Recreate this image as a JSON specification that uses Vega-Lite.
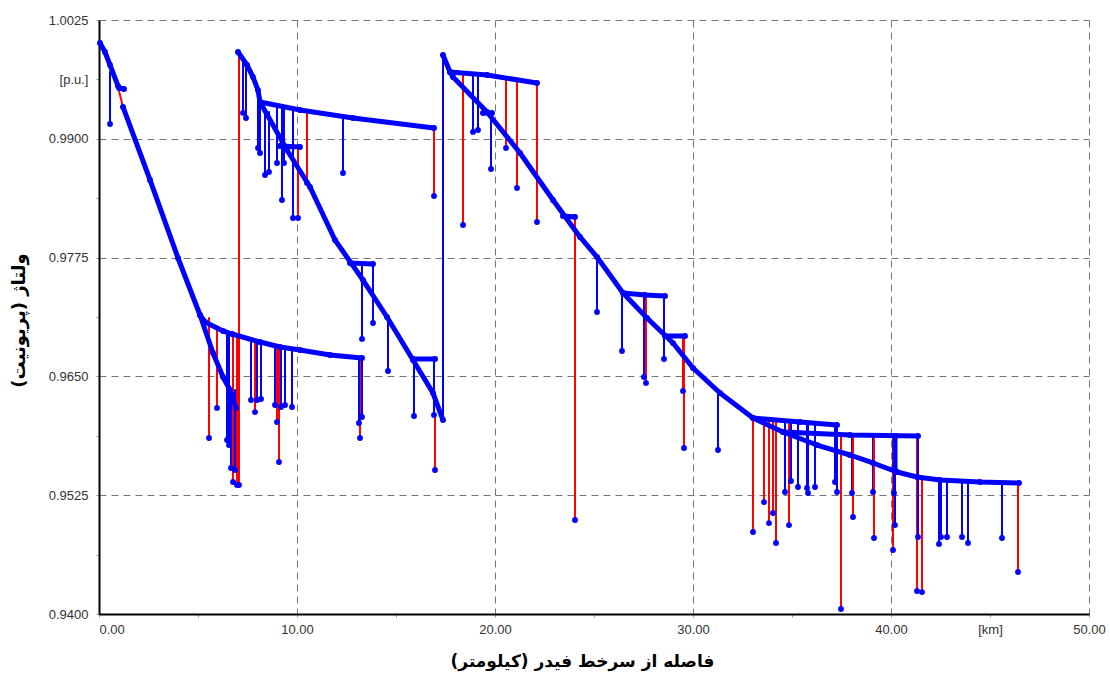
{
  "$schema": "https://vega.github.io/schema/vega-lite/v6.json",
  "autosize": {"type": "none"},
  "padding": {"left": 99, "top": 20, "right": 21, "bottom": 59},
  "width": 990,
  "height": 594,
  "background": "white",
  "config": {"view": {"stroke": null}},
  "datasets": {
    "feeders": [
      {"s":"m1a","c":"A","x":0.051,"y":1.00008},{"s":"m1a","c":"A","x":0.303,"y":0.99913},{"s":"m1a","c":"A","x":0.556,"y":0.99777},{"s":"m1a","c":"A","x":0.960,"y":0.99556},{"s":"m1a","c":"A","x":1.010,"y":0.99535},{"s":"m1a","c":"A","x":1.263,"y":0.99524},
      {"s":"m1b","c":"A","x":1.212,"y":0.99335},{"s":"m1b","c":"A","x":2.576,"y":0.98567},{"s":"m1b","c":"A","x":3.990,"y":0.97746},{"s":"m1b","c":"A","x":5.101,"y":0.97146},{"s":"m1b","c":"A","x":5.758,"y":0.96746},{"s":"m1b","c":"A","x":6.263,"y":0.96494},{"s":"m1b","c":"A","x":6.616,"y":0.96357},{"s":"m1b","c":"A","x":6.919,"y":0.96168},
      {"s":"h1","c":"A","x":5.101,"y":0.97146},{"s":"h1","c":"A","x":5.354,"y":0.97072},{"s":"h1","c":"A","x":6.263,"y":0.96978},{"s":"h1","c":"A","x":6.717,"y":0.96946},{"s":"h1","c":"A","x":8.131,"y":0.96862},{"s":"h1","c":"A","x":9.141,"y":0.96809},{"s":"h1","c":"A","x":10.152,"y":0.96778},{"s":"h1","c":"A","x":11.667,"y":0.96725},{"s":"h1","c":"A","x":13.283,"y":0.96694},
      {"s":"m2","c":"A","x":7.020,"y":0.99913},{"s":"m2","c":"A","x":7.475,"y":0.99777},{"s":"m2","c":"A","x":7.778,"y":0.99650},{"s":"m2","c":"A","x":8.030,"y":0.99513},{"s":"m2","c":"A","x":8.131,"y":0.99387},{"s":"m2","c":"A","x":9.495,"y":0.98882},{"s":"m2","c":"A","x":10.657,"y":0.98493},{"s":"m2","c":"A","x":11.919,"y":0.97935},{"s":"m2","c":"A","x":13.333,"y":0.97514},{"s":"m2","c":"A","x":14.545,"y":0.97125},{"s":"m2","c":"A","x":15.859,"y":0.96673},{"s":"m2","c":"A","x":16.869,"y":0.96325},{"s":"m2","c":"A","x":17.374,"y":0.96041},
      {"s":"h2","c":"A","x":8.131,"y":0.99387},{"s":"h2","c":"A","x":10.152,"y":0.99303},{"s":"h2","c":"A","x":12.828,"y":0.99219},{"s":"h2","c":"A","x":16.919,"y":0.99114},
      {"s":"h2b","c":"A","x":9.141,"y":0.98924},{"s":"h2b","c":"A","x":10.152,"y":0.98914},
      {"s":"h4","c":"A","x":12.677,"y":0.97693},{"s":"h4","c":"A","x":13.838,"y":0.97683},
      {"s":"h5","c":"A","x":15.859,"y":0.96683},{"s":"h5","c":"A","x":16.970,"y":0.96683},
      {"s":"m3","c":"A","x":17.374,"y":0.99882},{"s":"m3","c":"A","x":17.727,"y":0.99703},{"s":"m3","c":"A","x":17.879,"y":0.99650},{"s":"m3","c":"A","x":19.596,"y":0.99282},{"s":"m3","c":"A","x":21.263,"y":0.98851},{"s":"m3","c":"A","x":22.929,"y":0.98356},{"s":"m3","c":"A","x":24.293,"y":0.97967},{"s":"m3","c":"A","x":25.152,"y":0.97756},{"s":"m3","c":"A","x":26.465,"y":0.97378},{"s":"m3","c":"A","x":27.677,"y":0.97115},{"s":"m3","c":"A","x":28.990,"y":0.96851},{"s":"m3","c":"A","x":30.000,"y":0.96588},{"s":"m3","c":"A","x":31.364,"y":0.96325},{"s":"m3","c":"A","x":33.030,"y":0.96062},{"s":"m3","c":"A","x":34.545,"y":0.95915},{"s":"m3","c":"A","x":36.263,"y":0.95778},{"s":"m3","c":"A","x":37.929,"y":0.95673},{"s":"m3","c":"A","x":39.091,"y":0.95589},{"s":"m3","c":"A","x":40.303,"y":0.95494},{"s":"m3","c":"A","x":41.313,"y":0.95442},{"s":"m3","c":"A","x":42.475,"y":0.95410},{"s":"m3","c":"A","x":44.495,"y":0.95389},{"s":"m3","c":"A","x":46.465,"y":0.95378},
      {"s":"h3","c":"A","x":17.727,"y":0.99703},{"s":"h3","c":"A","x":19.596,"y":0.99671},{"s":"h3","c":"A","x":22.121,"y":0.99587},
      {"s":"h6","c":"A","x":19.394,"y":0.99272},{"s":"h6","c":"A","x":19.848,"y":0.99272},
      {"s":"h7","c":"A","x":23.434,"y":0.98188},{"s":"h7","c":"A","x":24.040,"y":0.98177},
      {"s":"h8","c":"A","x":26.465,"y":0.97378},{"s":"h8","c":"A","x":27.576,"y":0.97357},{"s":"h8","c":"A","x":28.586,"y":0.97346},
      {"s":"h9","c":"A","x":28.586,"y":0.96925},{"s":"h9","c":"A","x":29.596,"y":0.96925},
      {"s":"h10","c":"A","x":33.030,"y":0.96062},{"s":"h10","c":"A","x":35.404,"y":0.96020},{"s":"h10","c":"A","x":37.273,"y":0.95989},
      {"s":"h11","c":"A","x":34.545,"y":0.95915},{"s":"h11","c":"A","x":37.929,"y":0.95883},{"s":"h11","c":"A","x":41.364,"y":0.95873},
      {"s":"h11v","c":"A","x":40.202,"y":0.95873},{"s":"h11v","c":"A","x":40.202,"y":0.95515}
    ],
    "laterals": [
      {"s":"m1r","c":"B","x":1.010,"y":0.99503,"p":0},{"s":"m1r","c":"B","x":1.212,"y":0.99335,"p":0},
      {"s":"reg1","c":"B","x":7.071,"y":0.99913,"p":0},{"s":"reg1","c":"B","x":7.071,"y":0.95357,"p":1},
      {"s":"reg2","c":"A","x":17.374,"y":0.96041,"p":0},{"s":"reg2","c":"A","x":17.374,"y":0.99882,"p":0},
      {"s":"d1","c":"A","x":0.556,"y":0.99703,"p":0},{"s":"d1","c":"A","x":0.556,"y":0.99156,"p":1},
      {"s":"d2","c":"B","x":5.556,"y":0.97115,"p":0},{"s":"d2","c":"B","x":5.556,"y":0.95852,"p":1},
      {"s":"d3","c":"B","x":5.960,"y":0.97030,"p":0},{"s":"d3","c":"B","x":5.960,"y":0.96168,"p":1},
      {"s":"d4","c":"A","x":6.465,"y":0.96967,"p":0},{"s":"d4","c":"A","x":6.465,"y":0.95831,"p":1},
      {"s":"d5","c":"A","x":6.566,"y":0.96946,"p":0},{"s":"d5","c":"A","x":6.566,"y":0.95778,"p":1},
      {"s":"d6","c":"B","x":6.768,"y":0.96946,"p":0},{"s":"d6","c":"B","x":6.768,"y":0.95389,"p":1},
      {"s":"d7","c":"B","x":6.970,"y":0.96925,"p":0},{"s":"d7","c":"B","x":6.970,"y":0.95357,"p":1},
      {"s":"d8","c":"A","x":6.667,"y":0.96357,"p":0},{"s":"d8","c":"A","x":6.667,"y":0.95536,"p":1},
      {"s":"d9","c":"A","x":6.869,"y":0.96357,"p":0},{"s":"d9","c":"A","x":6.869,"y":0.95515,"p":1},
      {"s":"d10","c":"A","x":7.677,"y":0.96883,"p":0},{"s":"d10","c":"A","x":7.677,"y":0.96252,"p":1},
      {"s":"d11","c":"B","x":7.879,"y":0.96873,"p":0},{"s":"d11","c":"B","x":7.879,"y":0.96125,"p":1},
      {"s":"d12","c":"A","x":7.980,"y":0.96873,"p":0},{"s":"d12","c":"A","x":7.980,"y":0.96252,"p":1},
      {"s":"d13","c":"A","x":8.182,"y":0.96862,"p":0},{"s":"d13","c":"A","x":8.182,"y":0.96262,"p":1},
      {"s":"d14","c":"A","x":8.889,"y":0.96820,"p":0},{"s":"d14","c":"A","x":8.889,"y":0.96199,"p":1},
      {"s":"d15","c":"B","x":8.990,"y":0.96820,"p":0},{"s":"d15","c":"B","x":8.990,"y":0.96020,"p":1},
      {"s":"d16","c":"B","x":9.091,"y":0.96820,"p":0},{"s":"d16","c":"B","x":9.091,"y":0.95599,"p":1},
      {"s":"d17","c":"A","x":9.192,"y":0.96809,"p":0},{"s":"d17","c":"A","x":9.192,"y":0.96178,"p":1},
      {"s":"d18","c":"A","x":9.394,"y":0.96809,"p":0},{"s":"d18","c":"A","x":9.394,"y":0.96199,"p":1},
      {"s":"d19","c":"A","x":9.747,"y":0.96788,"p":0},{"s":"d19","c":"A","x":9.747,"y":0.96178,"p":1},
      {"s":"d20","c":"B","x":13.182,"y":0.96694,"p":0},{"s":"d20","c":"B","x":13.182,"y":0.95852,"p":1},
      {"s":"d21","c":"A","x":13.131,"y":0.96694,"p":0},{"s":"d21","c":"A","x":13.131,"y":0.96010,"p":1},
      {"s":"d22","c":"A","x":13.283,"y":0.96694,"p":0},{"s":"d22","c":"A","x":13.283,"y":0.96073,"p":1},
      {"s":"d23","c":"A","x":7.273,"y":0.99829,"p":0},{"s":"d23","c":"A","x":7.273,"y":0.99272,"p":1},
      {"s":"d24","c":"A","x":7.424,"y":0.99777,"p":0},{"s":"d24","c":"A","x":7.424,"y":0.99219,"p":1},
      {"s":"d25","c":"A","x":8.030,"y":0.99377,"p":0},{"s":"d25","c":"A","x":8.030,"y":0.98903,"p":1},
      {"s":"d26","c":"A","x":8.131,"y":0.99356,"p":0},{"s":"d26","c":"A","x":8.131,"y":0.98851,"p":1},
      {"s":"d27","c":"A","x":8.384,"y":0.99303,"p":0},{"s":"d27","c":"A","x":8.384,"y":0.98619,"p":1},
      {"s":"d28","c":"A","x":8.586,"y":0.99282,"p":0},{"s":"d28","c":"A","x":8.586,"y":0.98651,"p":1},
      {"s":"d29","c":"A","x":8.990,"y":0.99345,"p":0},{"s":"d29","c":"A","x":8.990,"y":0.98745,"p":1},
      {"s":"d30","c":"A","x":9.242,"y":0.99345,"p":0},{"s":"d30","c":"A","x":9.242,"y":0.98356,"p":1},
      {"s":"d31","c":"A","x":9.343,"y":0.99335,"p":0},{"s":"d31","c":"A","x":9.343,"y":0.98745,"p":1},
      {"s":"d32","c":"A","x":9.798,"y":0.99324,"p":0},{"s":"d32","c":"A","x":9.798,"y":0.98167,"p":1},
      {"s":"d33","c":"B","x":10.051,"y":0.98914,"p":0},{"s":"d33","c":"B","x":10.051,"y":0.98167,"p":1},
      {"s":"d34","c":"B","x":10.505,"y":0.99293,"p":0},{"s":"d34","c":"B","x":10.505,"y":0.98535,"p":1},
      {"s":"d35","c":"A","x":12.323,"y":0.99229,"p":0},{"s":"d35","c":"A","x":12.323,"y":0.98640,"p":1},
      {"s":"d36","c":"B","x":16.919,"y":0.99114,"p":0},{"s":"d36","c":"B","x":16.919,"y":0.98398,"p":1},
      {"s":"d37","c":"A","x":13.283,"y":0.97693,"p":0},{"s":"d37","c":"A","x":13.283,"y":0.96894,"p":1},
      {"s":"d38","c":"A","x":13.838,"y":0.97683,"p":0},{"s":"d38","c":"A","x":13.838,"y":0.97062,"p":1},
      {"s":"d39","c":"A","x":14.596,"y":0.97115,"p":0},{"s":"d39","c":"A","x":14.596,"y":0.96557,"p":1},
      {"s":"d40","c":"A","x":15.909,"y":0.96683,"p":0},{"s":"d40","c":"A","x":15.909,"y":0.96083,"p":1},
      {"s":"d41","c":"A","x":16.919,"y":0.96683,"p":0},{"s":"d41","c":"A","x":16.919,"y":0.96094,"p":1},
      {"s":"d42","c":"B","x":16.970,"y":0.96094,"p":0},{"s":"d42","c":"B","x":16.970,"y":0.95515,"p":1},
      {"s":"d43","c":"B","x":18.384,"y":0.99682,"p":0},{"s":"d43","c":"B","x":18.384,"y":0.98093,"p":1},
      {"s":"d44","c":"A","x":18.889,"y":0.99671,"p":0},{"s":"d44","c":"A","x":18.889,"y":0.99072,"p":1},
      {"s":"d45","c":"A","x":19.141,"y":0.99661,"p":0},{"s":"d45","c":"A","x":19.141,"y":0.99093,"p":1},
      {"s":"d46","c":"A","x":19.798,"y":0.99272,"p":0},{"s":"d46","c":"A","x":19.798,"y":0.98682,"p":1},
      {"s":"d47","c":"B","x":20.556,"y":0.99619,"p":0},{"s":"d47","c":"B","x":20.556,"y":0.98903,"p":1},
      {"s":"d48","c":"B","x":21.111,"y":0.99608,"p":0},{"s":"d48","c":"B","x":21.111,"y":0.98482,"p":1},
      {"s":"d49","c":"B","x":22.121,"y":0.99587,"p":0},{"s":"d49","c":"B","x":22.121,"y":0.98125,"p":1},
      {"s":"d50","c":"B","x":24.040,"y":0.98177,"p":0},{"s":"d50","c":"B","x":24.040,"y":0.94989,"p":1},
      {"s":"d51","c":"A","x":25.152,"y":0.97756,"p":0},{"s":"d51","c":"A","x":25.152,"y":0.97178,"p":1},
      {"s":"d52","c":"A","x":26.414,"y":0.97388,"p":0},{"s":"d52","c":"A","x":26.414,"y":0.96767,"p":1},
      {"s":"d53","c":"A","x":27.525,"y":0.97346,"p":0},{"s":"d53","c":"A","x":27.525,"y":0.96494,"p":1},
      {"s":"d54","c":"B","x":27.626,"y":0.97346,"p":0},{"s":"d54","c":"B","x":27.626,"y":0.96431,"p":1},
      {"s":"d55","c":"A","x":28.535,"y":0.97346,"p":0},{"s":"d55","c":"A","x":28.535,"y":0.96683,"p":1},
      {"s":"d56","c":"B","x":29.495,"y":0.96925,"p":0},{"s":"d56","c":"B","x":29.495,"y":0.96346,"p":1},
      {"s":"d57","c":"B","x":29.545,"y":0.96925,"p":0},{"s":"d57","c":"B","x":29.545,"y":0.95747,"p":1},
      {"s":"d58","c":"A","x":31.263,"y":0.96325,"p":0},{"s":"d58","c":"A","x":31.263,"y":0.95726,"p":1},
      {"s":"d59","c":"B","x":33.030,"y":0.96062,"p":0},{"s":"d59","c":"B","x":33.030,"y":0.94863,"p":1},
      {"s":"d60","c":"B","x":33.586,"y":0.96041,"p":0},{"s":"d60","c":"B","x":33.586,"y":0.95178,"p":1},
      {"s":"d61","c":"B","x":33.838,"y":0.96041,"p":0},{"s":"d61","c":"B","x":33.838,"y":0.94957,"p":1},
      {"s":"d62","c":"B","x":34.040,"y":0.96031,"p":0},{"s":"d62","c":"B","x":34.040,"y":0.95063,"p":1},
      {"s":"d63","c":"B","x":34.192,"y":0.96031,"p":0},{"s":"d63","c":"B","x":34.192,"y":0.94747,"p":1},
      {"s":"d64","c":"A","x":34.646,"y":0.96020,"p":0},{"s":"d64","c":"A","x":34.646,"y":0.95284,"p":1},
      {"s":"d65","c":"B","x":34.848,"y":0.96020,"p":0},{"s":"d65","c":"B","x":34.848,"y":0.94936,"p":1},
      {"s":"d66","c":"A","x":34.949,"y":0.96020,"p":0},{"s":"d66","c":"A","x":34.949,"y":0.95399,"p":1},
      {"s":"d67","c":"A","x":35.303,"y":0.96020,"p":0},{"s":"d67","c":"A","x":35.303,"y":0.95336,"p":1},
      {"s":"d68","c":"A","x":35.758,"y":0.96010,"p":0},{"s":"d68","c":"A","x":35.758,"y":0.95326,"p":1},
      {"s":"d69","c":"A","x":35.808,"y":0.96010,"p":0},{"s":"d69","c":"A","x":35.808,"y":0.95273,"p":1},
      {"s":"d70","c":"A","x":36.162,"y":0.95999,"p":0},{"s":"d70","c":"A","x":36.162,"y":0.95336,"p":1},
      {"s":"d71","c":"A","x":37.172,"y":0.95989,"p":0},{"s":"d71","c":"A","x":37.172,"y":0.95389,"p":1},
      {"s":"d72","c":"A","x":37.273,"y":0.95989,"p":0},{"s":"d72","c":"A","x":37.273,"y":0.95284,"p":1},
      {"s":"d73","c":"B","x":37.475,"y":0.95883,"p":0},{"s":"d73","c":"B","x":37.475,"y":0.94053,"p":1},
      {"s":"d74","c":"A","x":38.030,"y":0.95883,"p":0},{"s":"d74","c":"A","x":38.030,"y":0.95273,"p":1},
      {"s":"d75","c":"B","x":38.081,"y":0.95883,"p":0},{"s":"d75","c":"B","x":38.081,"y":0.95021,"p":1},
      {"s":"d76","c":"A","x":39.091,"y":0.95873,"p":0},{"s":"d76","c":"A","x":39.091,"y":0.95284,"p":1},
      {"s":"d77","c":"B","x":39.141,"y":0.95873,"p":0},{"s":"d77","c":"B","x":39.141,"y":0.94800,"p":1},
      {"s":"d78","c":"B","x":40.101,"y":0.95873,"p":0},{"s":"d78","c":"B","x":40.101,"y":0.94673,"p":1},
      {"s":"d79","c":"A","x":40.152,"y":0.95873,"p":0},{"s":"d79","c":"A","x":40.152,"y":0.95273,"p":1},
      {"s":"d80","c":"A","x":40.202,"y":0.95873,"p":0},{"s":"d80","c":"A","x":40.202,"y":0.94936,"p":1},
      {"s":"d81","c":"B","x":41.313,"y":0.95873,"p":0},{"s":"d81","c":"B","x":41.313,"y":0.94242,"p":1},
      {"s":"d82","c":"A","x":41.364,"y":0.95873,"p":0},{"s":"d82","c":"A","x":41.364,"y":0.94810,"p":1},
      {"s":"d83","c":"B","x":41.566,"y":0.95442,"p":0},{"s":"d83","c":"B","x":41.566,"y":0.94231,"p":1},
      {"s":"d84","c":"A","x":42.424,"y":0.95410,"p":0},{"s":"d84","c":"A","x":42.424,"y":0.94737,"p":1},
      {"s":"d85","c":"A","x":42.525,"y":0.95410,"p":0},{"s":"d85","c":"A","x":42.525,"y":0.94810,"p":1},
      {"s":"d86","c":"A","x":42.828,"y":0.95410,"p":0},{"s":"d86","c":"A","x":42.828,"y":0.94810,"p":1},
      {"s":"d87","c":"A","x":43.586,"y":0.95399,"p":0},{"s":"d87","c":"A","x":43.586,"y":0.94810,"p":1},
      {"s":"d88","c":"A","x":43.889,"y":0.95399,"p":0},{"s":"d88","c":"A","x":43.889,"y":0.94747,"p":1},
      {"s":"d89","c":"A","x":45.606,"y":0.95389,"p":0},{"s":"d89","c":"A","x":45.606,"y":0.94800,"p":1},
      {"s":"d90","c":"B","x":46.414,"y":0.95378,"p":0},{"s":"d90","c":"B","x":46.414,"y":0.94442,"p":1}
    ]
  },
  "encoding": {
    "x": {
      "field": "x", "type": "quantitative",
      "scale": {"domain": [0, 50], "nice": false, "zero": false},
      "axis": {
        "title": "فاصله از سرخط فیدر (کیلومتر)",
        "titleFont": "DejaVu Sans", "titleFontWeight": "bold", "titleFontSize": 17, "titleColor": "#000",
        "titleX": 483, "titleY": 52, "titleAlign": "center", "titleBaseline": "alphabetic",
        "values": [0, 5, 10, 15, 20, 25, 30, 35, 40, 45, 50],
        "labelExpr": "datum.value % 10 == 0 ? format(datum.value, '.2f') : (datum.value == 45 ? '[km]' : '')",
        "labelOverlap": false, "labelFlush": false,
        "labelAlign": {"condition": {"test": "datum.value == 0", "value": "left"}, "value": "center"},
        "labelFont": "Liberation Sans", "labelFontSize": 13, "labelColor": "#333", "labelPadding": 6,
        "grid": true, "gridDash": [7, 5], "gridColor": "#777", "gridWidth": 1,
        "gridOpacity": {"condition": {"test": "datum.value % 10 != 0 || datum.value == 0", "value": 0}, "value": 1},
        "domainColor": "#000", "domainWidth": 2,
        "ticks": true, "tickSize": 3, "tickColor": "#999"
      }
    },
    "y": {
      "field": "y", "type": "quantitative",
      "scale": {"domain": [0.94, 1.0025], "nice": false, "zero": false},
      "axis": {
        "title": "ولتاژ (پریونیت)",
        "titleFont": "DejaVu Sans", "titleFontWeight": "bold", "titleFontSize": 18, "titleColor": "#000",
        "titleX": -80, "titleY": 300, "titleAlign": "center", "titleBaseline": "middle", "titleAngle": -90,
        "values": [0.94, 0.94625, 0.9525, 0.95875, 0.965, 0.97125, 0.9775, 0.98375, 0.99, 0.99625, 1.0025],
        "labelExpr": "abs(datum.value - 0.99625) < 0.000001 ? '[p.u.]' : (round(datum.value * 800) % 10 == 2 ? format(datum.value, '.4f') : '')",
        "labelOverlap": false, "labelFlush": false,
        "labelFont": "Liberation Sans", "labelFontSize": 13, "labelColor": "#333", "labelPadding": 8,
        "grid": true, "gridDash": [7, 5], "gridColor": "#777", "gridWidth": 1,
        "gridOpacity": {"condition": {"test": "round(datum.value * 800) % 10 != 2 || datum.value < 0.941", "value": 0}, "value": 1},
        "domainColor": "#000", "domainWidth": 2,
        "ticks": true, "tickSize": 3, "tickColor": "#999"
      }
    }
  },
  "layer": [
    {
      "data": {"name": "laterals"},
      "mark": {"type": "line", "strokeWidth": 2, "strokeCap": "round"},
      "encoding": {
        "detail": {"field": "s"},
        "color": {"field": "c", "type": "nominal", "scale": {"domain": ["A", "B"], "range": ["#0000ff", "#ff0000"]}, "legend": null}
      }
    },
    {
      "data": {"name": "feeders"},
      "mark": {"type": "line", "strokeWidth": 5, "strokeCap": "round", "strokeJoin": "round"},
      "encoding": {
        "detail": {"field": "s"},
        "color": {"field": "c", "type": "nominal", "scale": {"domain": ["A", "B"], "range": ["#0000ff", "#ff0000"]}, "legend": null}
      }
    },
    {
      "data": {"name": "feeders"},
      "mark": {"type": "circle", "size": 34, "color": "#0000ff", "opacity": 1},
      "encoding": {}
    },
    {
      "data": {"name": "laterals"},
      "transform": [{"filter": "datum.p == 1"}],
      "mark": {"type": "circle", "size": 34, "color": "#0000ff", "opacity": 1},
      "encoding": {}
    }
  ]
}
